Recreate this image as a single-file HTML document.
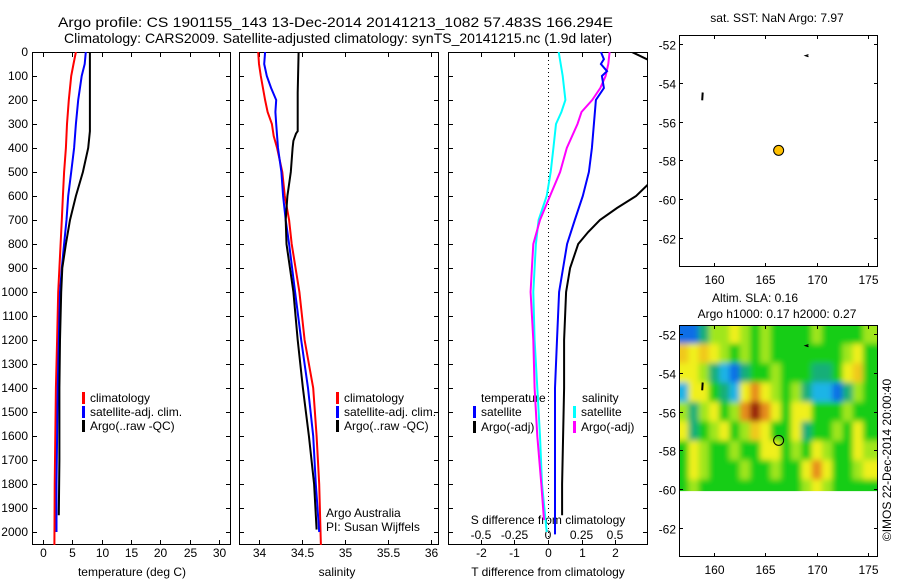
<!DOCTYPE html>
<html><head><meta charset="utf-8"><style>
html,body{margin:0;padding:0;background:#fff;}
svg{display:block;font-family:"Liberation Sans",sans-serif;}
text{font-size:12px;fill:#000;}
</style></head><body>
<svg id="fig" width="900" height="580" viewBox="0 0 900 580" xmlns="http://www.w3.org/2000/svg">
<text x="58" y="27" textLength="555" lengthAdjust="spacingAndGlyphs" style="font-size:14px">Argo profile: CS 1901155_143 13-Dec-2014 20141213_1082 57.483S 166.294E</text>
<text x="64" y="43" textLength="548" lengthAdjust="spacingAndGlyphs" style="font-size:14px">Climatology: CARS2009. Satellite-adjusted climatology: synTS_20141215.nc (1.9d later)</text>
<g id="layer"></g>
</svg>
<script>
// ---- Data ----
const depthTicks=[0,100,200,300,400,500,600,700,800,900,1000,1100,1200,1300,1400,1500,1600,1700,1800,1900,2000];
const tempTicks=[0,5,10,15,20,25,30];
const salTicks=[34,34.5,35,35.5,36];
const salTickLabels=["34","34.5","35","35.5","36"];
const dTTicks=[-2,-1,0,1,2];
const dSTicks=[-0.5,-0.25,0,0.25,0.5];
const dSTickLabels=["-0.5","-0.25","0","0.25","0.5"];

const climTDepth=[0,50,100,200,300,400,500,600,700,800,900,1000,1200,1400,1600,1800,2055];
const climT=[5.6,5.2,4.8,4.4,4.1,3.9,3.6,3.4,3.2,3.0,2.8,2.6,2.4,2.2,2.1,2.0,1.95];
const satTDepth=[0,50,100,200,300,400,500,600,700,800,900,1000,1200,1400,1600,1800,2000];
const satT=[7.3,7.1,6.6,6.0,5.6,5.3,4.8,4.3,4.0,3.6,3.2,2.9,2.7,2.5,2.4,2.3,2.3];
const argoTDepth=[0,330,400,500,600,700,800,900,1000,1200,1400,1700,1930];
const argoT=[8.0,8.0,7.7,6.8,5.6,4.6,3.9,3.3,3.1,2.9,2.8,2.8,2.7];

const climSDepth=[0,50,100,200,250,300,350,400,500,600,700,800,1000,1200,1400,1600,1800,2055];
const climS=[33.99,34.0,34.02,34.07,34.1,34.15,34.17,34.21,34.27,34.3,34.35,34.38,34.47,34.53,34.63,34.67,34.7,34.72];
const satSDepth=[0,50,100,150,200,250,300,400,500,600,700,800,1000,1200,1400,1600,1800,2000];
const satS=[34.07,34.06,34.09,34.14,34.2,34.19,34.2,34.22,34.26,34.28,34.31,34.35,34.42,34.49,34.57,34.63,34.66,34.7];
const argoSDepth=[0,170,330,340,370,400,500,600,700,800,1000,1200,1400,1600,1800,1990];
const argoS=[34.46,34.45,34.45,34.43,34.4,34.39,34.37,34.33,34.31,34.32,34.4,34.45,34.51,34.58,34.64,34.67];

const dSsatDepth=[0,100,200,250,300,400,500,600,700,800,900,1000,1200,1400,1600,1800,2000];
const dSsat=[0.08,0.11,0.13,0.1,0.06,0.04,0.02,-0.01,-0.07,-0.09,-0.1,-0.11,-0.1,-0.08,-0.06,-0.045,-0.01];
const dSargoDepth=[0,50,100,150,200,250,300,400,500,600,700,800,900,1000,1200,1400,1600,1800,1950];
const dSargo=[0.46,0.45,0.43,0.39,0.33,0.25,0.22,0.14,0.09,0.015,-0.06,-0.11,-0.12,-0.13,-0.11,-0.1,-0.08,-0.05,-0.03];
const dTsatDepth=[0,30,50,80,100,150,200,300,400,500,600,700,800,900,1000,1200,1400,1600,1800,2010];
const dTsat=[1.58,1.67,1.58,1.76,1.61,1.67,1.43,1.37,1.31,1.22,1.04,0.8,0.57,0.45,0.33,0.27,0.21,0.21,0.21,0.21];
const dTargoDepth=[0,30,60,450,550,600,650,700,750,800,900,1000,1200,1400,1600,1800,1930];
const dTargo=[2.5,2.95,3.5,3.5,3.0,2.63,2.06,1.55,1.2,0.9,0.66,0.54,0.48,0.48,0.45,0.42,0.42];

const lonTicks=[160,165,170,175];
const latTicks=[-52,-54,-56,-58,-60,-62];
const floatLon=166.294, floatLat=-57.483;
// SLA grid: rows lat -52..-60 (1 deg), cols lon 157..176 (1 deg); units: colour class
const slaLats=[-52,-53,-54,-55,-56,-57,-58,-59,-60];
const slaLons=[157,158,159,160,161,162,163,164,165,166,167,168,169,170,171,172,173,174,175,176];
const slaGrid=[
[-3,-3,-1,1,1,2,1,0,1,0,0,0,0,1,0,0,0,0,1,1],
[2.5,2,2.5,2,1,0,1,0,1,0,0,0,0,0,0,0,1,2,0,0],
[2,2,1,-1,-2,-3,-1,0,0,1,0,0,0,-1,-1,0,2,2.5,0,0],
[-2,2,2,0,-1,-2,2,3,2,1,0,1,-1,-2,-2,-3,-1,1,0,0],
[1,-1,1,2,0,1,3,4,3,2,0,2,2,0,0,0,1,0,0,0],
[2,-1,0,1,2,0,1,2.5,2,0,0,2,-1,0,0,1,0,2,0,0],
[0,2,1,0,0,1,0,0,2,2,0,1,0,2,1,0,0,2,1,1],
[0,2,1,0,0,0,1,0,0,1,0,0,2,3,2,0,0,1,2,2],
[0,1,0,0,0,0,0,0,0,0,0,0,1,2,1,0,0,0,0,0]
];

// ---- helpers ----
const NS="http://www.w3.org/2000/svg";
const layer=document.getElementById('layer');
function mk(tag,attrs,parent){const e=document.createElementNS(NS,tag);for(const k in attrs)e.setAttribute(k,attrs[k]);(parent||layer).appendChild(e);return e;}
function txt(x,y,s,anchor,parent,size){const t=mk('text',{x:x,y:y,'text-anchor':anchor||'start'},parent);if(size)t.style.fontSize=size+'px';t.textContent=s;return t;}

const top0=52, pxPerM=0.24, plotBottom=545;
const yD=d=>top0+d*pxPerM;
const panels=[
 {name:'temperature',x0:32,x1:231,v0:-1.87,v1:32.03},
 {name:'salinity',x0:239,x1:439,v0:33.767,v1:36.093},
 {name:'difference',x0:448,x1:648,v0:-2.985,v1:2.985}
];
panels.forEach(p=>{p.sx=v=>p.x0+(v-p.v0)/(p.v1-p.v0)*(p.x1-p.x0);});
const xT=panels[0].sx, xS=panels[1].sx, xDT=panels[2].sx;
const xDS=v=>xDT(v*4);

const defs=mk('defs',{});
panels.forEach((p,i)=>{const c=mk('clipPath',{id:'clip'+i},defs);mk('rect',{x:p.x0,y:top0,width:p.x1-p.x0,height:plotBottom-top0},c);});

function axesBox(p,i){
 const g=mk('g',{});
 
 
 mk('rect',{x:p.x0+0.5,y:top0+0.5,width:p.x1-p.x0-1,height:plotBottom-top0-1,fill:'none',stroke:'#000','stroke-width':1},g);
 depthTicks.forEach(d=>{const y=Math.round(yD(d))+0.5;
  mk('line',{x1:p.x0,x2:p.x0+5,y1:y,y2:y,stroke:'#000'},g);
  mk('line',{x1:p.x1-5,x2:p.x1,y1:y,y2:y,stroke:'#000'},g);
 });
 return g;
}
function xticks(g,vals,fx,labels,ly){
 vals.forEach((v,k)=>{const x=Math.round(fx(v))+0.5;
  mk('line',{x1:x,x2:x,y1:top0,y2:top0+5,stroke:'#000'},g);
  mk('line',{x1:x,x2:x,y1:plotBottom-5,y2:plotBottom,stroke:'#000'},g);
  if(labels){const t=txt(x,ly,labels[k],'middle',g);}
 });
}
function line(xs,ds,fx,color,clipi,name){
 const pts=xs.map((v,k)=>fx(v).toFixed(1)+','+yD(ds[k]).toFixed(1)).join(' ');
 const pl=mk('polyline',{points:pts,fill:'none',stroke:color,'stroke-width':2,'clip-path':'url(#clip'+clipi+')'});
 
 
}
function legend(g,x,y,color,label){
 mk('rect',{x:x,y:y-10,width:3,height:12,fill:color},g);
 const t=txt(x+8,y,label,'start',g);
 
 
}

// Panel 1
let g=axesBox(panels[0],0);
depthTicks.forEach(d=>{const t=txt(28,yD(d)+4,String(d),'end',g);});
xticks(g,tempTicks,xT,tempTicks.map(String),557);
let xl=txt(132,576,'temperature (deg C)','middle',g);


line(climT,climTDepth,xT,'#ff0000',0,'temperature-climatology-line');
line(satT,satTDepth,xT,'#0000ff',0,'temperature-satellite-line');
line(argoT,argoTDepth,xT,'#000000',0,'temperature-argo-line');
legend(g,82,402,'#ff0000','climatology');
legend(g,82,416,'#0000ff','satellite-adj. clim.');
legend(g,82,430,'#000000','Argo(..raw -QC)');

// Panel 2
g=axesBox(panels[1],1);
xticks(g,salTicks,xS,salTickLabels,557);
xl=txt(337,576,'salinity','middle',g);


line(climS,climSDepth,xS,'#ff0000',1,'salinity-climatology-line');
line(satS,satSDepth,xS,'#0000ff',1,'salinity-satellite-line');
line(argoS,argoSDepth,xS,'#000000',1,'salinity-argo-line');
legend(g,336,402,'#ff0000','climatology');
legend(g,336,416,'#0000ff','satellite-adj. clim.');
legend(g,336,430,'#000000','Argo(..raw -QC)');
let c=txt(326,517,'Argo Australia','start',g);
c=txt(326,531,'PI: Susan Wijffels','start',g);

// Panel 3
g=axesBox(panels[2],2);
xticks(g,dTTicks,xDT,dTTicks.map(String),557);
mk('line',{x1:xDT(0)+0.5,x2:xDT(0)+0.5,y1:top0,y2:plotBottom,stroke:'#000','stroke-dasharray':'1,3'},g);
line(dSsat,dSsatDepth,xDS,'#00ffff',2,'salinity-diff-satellite-line');
line(dSargo,dSargoDepth,xDS,'#ff00ff',2,'salinity-diff-argo-line');
line(dTsat,dTsatDepth,xDT,'#0000ff',2,'temperature-diff-satellite-line');
line(dTargo,dTargoDepth,xDT,'#000000',2,'temperature-diff-argo-line');
c=txt(481,402,'temperature','start',g);
c=txt(582,402,'salinity','start',g);
legend(g,473,416,'#0000ff','satellite');
legend(g,473,431,'#000000','Argo(-adj)');
legend(g,573,416,'#00ffff','satellite');
legend(g,573,431,'#ff00ff','Argo(-adj)');
c=txt(548,524,'S difference from climatology','middle',g);
dSTicks.forEach((v,k)=>{const t=txt(xDS(v),539,dSTickLabels[k],'middle',g);});
xl=txt(548,576,'T difference from climatology','middle',g);



// ---- Maps ----
function makeMap(name,y0,y1,yLat52){
 const m={x0:679,x1:878,y0:y0,y1:y1};
 m.lx=lon=>714+(lon-160)*10.27;
 m.ly=lat=>yLat52+(-52-lat)*19.4;
 const mg=mk('g',{});
 
 
 m.g=mg;
 return m;
}
function mapFrame(m){
 const mg=m.g;
 mk('rect',{x:m.x0+0.5,y:m.y0+0.5,width:m.x1-m.x0-1,height:m.y1-m.y0-1,fill:'none',stroke:'#000'},mg);
 lonTicks.forEach(l=>{const x=Math.round(m.lx(l))+0.5;
  mk('line',{x1:x,x2:x,y1:m.y0,y2:m.y0+4,stroke:'#000'},mg);
  mk('line',{x1:x,x2:x,y1:m.y1-4,y2:m.y1,stroke:'#000'},mg);
  const t=txt(x,m.y1+17,String(l),'middle',mg);});
 latTicks.forEach(l=>{const y=Math.round(m.ly(l))+0.5;
  mk('line',{x1:m.x0,x2:m.x0+4,y1:y,y2:y,stroke:'#000'},mg);
  mk('line',{x1:m.x1-4,x2:m.x1,y1:y,y2:y,stroke:'#000'},mg);
  const t=txt(m.x0-3,y+5,String(l),'end',mg);});
 mk('path',{d:'M'+m.lx(169.2)+','+(m.ly(-52.6)-1)+' l-3,1 l3,1',fill:'none',stroke:'#000','stroke-width':1.2},mg);
 mk('line',{x1:m.lx(158.9),x2:m.lx(158.85),y1:m.ly(-54.5),y2:m.ly(-54.9),stroke:'#000','stroke-width':2},mg);
}
const m1=makeMap('sst-map',35,267,44);
mapFrame(m1);
c=txt(777,22,'sat. SST: NaN Argo: 7.97','middle',m1.g);
let fl=mk('circle',{cx:m1.lx(floatLon),cy:m1.ly(floatLat),r:5,fill:'#ffc000',stroke:'#000','stroke-width':1},m1.g);



const m2=makeMap('sla-map',325,557,334);
const colors=[[-3,[16,110,230]],[-2,[30,180,230]],[-1,[20,175,120]],[0,[20,205,20]],[1,[160,230,30]],[2,[240,240,30]],[2.5,[240,200,30]],[3,[230,140,30]],[4,[150,30,10]]];
function cmap(v){for(let i=0;i<colors.length-1;i++){const a=colors[i],b=colors[i+1];if(v<=b[0]){const t=(v-a[0])/(b[0]-a[0]);const c=a[1].map((q,k)=>Math.round(q+(b[1][k]-q)*Math.max(0,t)));return 'rgb('+c+')';}}return 'rgb('+colors[colors.length-1][1]+')';}
const slaClip=mk('clipPath',{id:'slaclip'},defs);
mk('rect',{x:679,y:325,width:198,height:m2.ly(-60.1)-325},slaClip);
const blur=mk('filter',{id:'bl',filterUnits:'userSpaceOnUse',x:660,y:300,width:240,height:220},defs);
mk('feGaussianBlur',{stdDeviation:'3'},blur);
const cells=mk('g',{'clip-path':'url(#slaclip)'},m2.g);
const inner=mk('g',{filter:'url(#bl)'},cells);
slaGrid.forEach((row,r)=>row.forEach((v,k)=>{
 const x=m2.lx(slaLons[k]-0.5), y=m2.ly(slaLats[r]+0.5);
 const w=10.27+0.5, h=19.4+0.5;
 const rc=mk('rect',{x:x-(k==0?8:0),y:y-(r==0?14:0),width:w+(k==0?8:0)+(k==row.length-1?8:0),height:h+(r==0?14:0)+(r==slaGrid.length-1?10:0),fill:cmap(v)},inner);
 
 
}));
mapFrame(m2);
c=txt(755,302,'Altim. SLA: 0.16','middle',m2.g);
c=txt(777,318,'Argo h1000: 0.17 h2000: 0.27','middle',m2.g);
fl=mk('circle',{cx:m2.lx(floatLon),cy:m2.ly(floatLat),r:5,fill:'none',stroke:'#000','stroke-width':1},m2.g);


c=txt(0,0,'©IMOS 22-Dec-2014 20:00:40','middle',m2.g);
c.setAttribute('transform','translate(891,460) rotate(-90)');


</script>
</body></html>
